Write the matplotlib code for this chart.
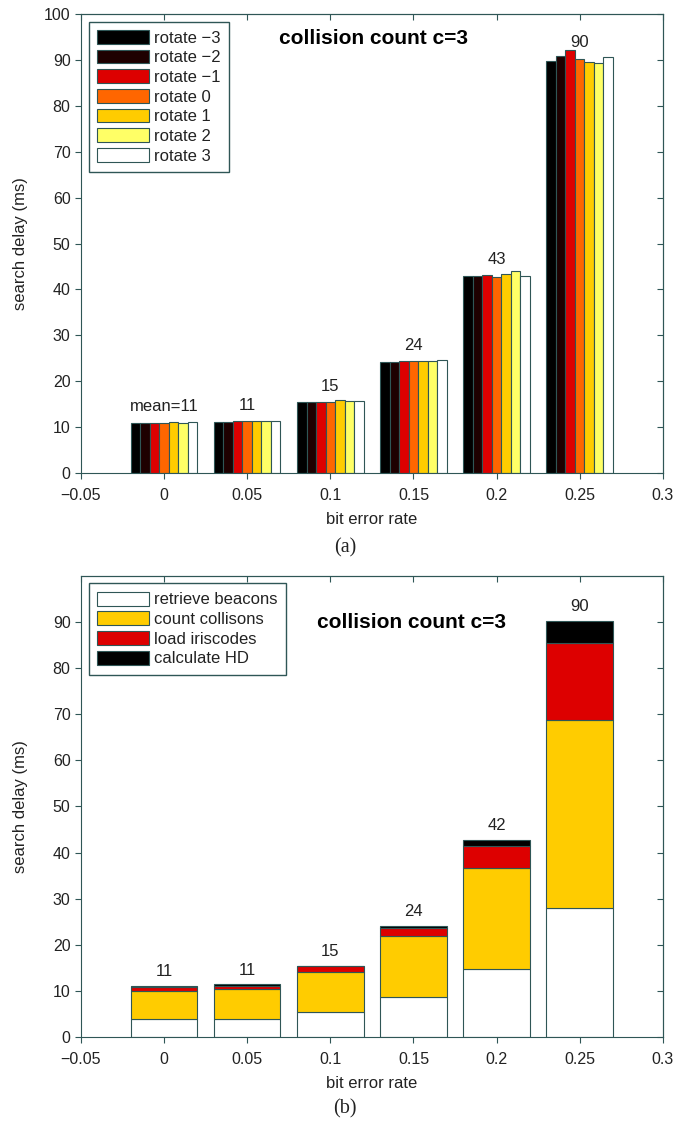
import numpy as np
import matplotlib
matplotlib.use("Agg")
import matplotlib.pyplot as plt

plt.rcParams["font.family"] = ["Liberation Sans", "DejaVu Sans"]

# Data
ber = [0, 0.05, 0.1, 0.15, 0.2, 0.25]
rot_labels = ["rotate \u22123", "rotate \u22122", "rotate \u22121",
              "rotate 0", "rotate 1", "rotate 2", "rotate 3"]
rot_delay = [
    [11.0, 11.2, 15.5, 24.2, 43.0, 89.8],
    [10.9, 11.2, 15.4, 24.2, 42.9, 90.9],
    [11.0, 11.4, 15.4, 24.3, 43.2, 92.1],
    [11.0, 11.3, 15.4, 24.3, 42.7, 90.1],
    [11.2, 11.4, 15.8, 24.4, 43.3, 89.5],
    [11.0, 11.4, 15.7, 24.3, 44.0, 89.3],
    [11.2, 11.4, 15.6, 24.6, 43.0, 90.6],
]
rot_means = ["mean=11", "11", "15", "24", "43", "90"]

stage_labels = ["retrieve beacons", "count collisons", "load iriscodes", "calculate HD"]
retrieve = [3.8, 4.0, 5.4, 8.6, 14.8, 27.9]
count = [6.2, 6.3, 8.6, 13.2, 21.8, 40.9]
load = [0.8, 0.8, 1.3, 1.9, 4.9, 16.6]
hd = [0.3, 0.3, 0.2, 0.4, 1.2, 4.9]
totals = ["11", "11", "15", "24", "42", "90"]

rot_colors = ["#000000", "#1e0000", "#dd0000", "#ff6600", "#ffcc00", "#ffff66", "#ffffff"]
stage_colors = ["#ffffff", "#ffcc00", "#dd0000", "#000000"]
edge = "#2f5656"
txt = "#222222"

fig = plt.figure(figsize=(6.75, 11.23), dpi=100)
ax1 = fig.add_axes([0.12, 0.5788, 0.862, 0.4087])
ax2 = fig.add_axes([0.12, 0.0766, 0.862, 0.4105])


def style(ax):
    ax.set_xlim(-0.05, 0.3)
    ax.set_ylim(0, 100)
    ax.set_xticks([-0.05, 0, 0.05, 0.1, 0.15, 0.2, 0.25, 0.3])
    ax.set_xticklabels(["\u22120.05", "0", "0.05", "0.1", "0.15", "0.2", "0.25", "0.3"])
    for s in ax.spines.values():
        s.set_color(edge)
    ax.tick_params(direction="out", length=4, color=edge, labelsize=11.5, labelcolor=txt)
    ax.tick_params(axis="x", pad=6.5)
    ax.tick_params(axis="y", pad=3.5)
    top = ax.secondary_xaxis("top")
    top.set_xticks(ax.get_xticks())
    top.tick_params(direction="in", length=4, color=edge, labeltop=False)
    top.spines["top"].set_color(edge)
    right = ax.secondary_yaxis("right")
    right.set_yticks(ax.get_yticks())
    right.tick_params(direction="in", length=4, color=edge, labelright=False)
    right.spines["right"].set_color(edge)
    ax.set_xlabel("bit error rate", fontsize=12, color=txt)
    ax.set_ylabel("search delay (ms)", fontsize=12, color=txt)
    ax.xaxis.set_label_coords(0.5, -0.085)
    ax.yaxis.set_label_coords(-0.091, 0.5)


def legend(ax):
    leg = ax.legend(loc="upper left", bbox_to_anchor=(0.0, 1.0), fontsize=12,
                    handlelength=3.1, handleheight=0.9, labelspacing=0.24,
                    borderpad=0.5, borderaxespad=0.45, handletextpad=0.36,
                    fancybox=False, framealpha=1)
    leg.get_frame().set_edgecolor(edge)
    for t in leg.get_texts():
        t.set_color(txt)


# (a) grouped bars
group_w = 0.04
bw = group_w / len(rot_delay)
x = np.array(ber)
for i, vals in enumerate(rot_delay):
    ax1.bar(x - group_w / 2 + bw * (i + 0.5), vals, bw, color=rot_colors[i],
            edgecolor=edge, linewidth=0.8, label=rot_labels[i])
ax1.set_yticks(range(0, 101, 10))
style(ax1)
means = np.mean(np.array(rot_delay), axis=0)
for xi, m, lab in zip(x, means, rot_means):
    ax1.text(xi, m + 3.4, lab, ha="center", va="center", fontsize=12, color=txt)
ax1.text(0.126, 94.6, "collision count c=3", ha="center", va="center",
         fontsize=15, fontweight="bold")
legend(ax1)
fig.text(0.511, 0.512, "(a)", ha="center", va="center", fontsize=14.5,
         family=["Liberation Serif", "DejaVu Serif"], color=txt)

# (b) stacked bars
bottom = np.zeros(len(ber))
for vals, c, lab in zip([retrieve, count, load, hd], stage_colors, stage_labels):
    ax2.bar(x, vals, group_w, bottom=bottom, color=c, edgecolor=edge,
            linewidth=0.8, label=lab)
    bottom += np.array(vals)
ax2.set_yticks(range(0, 91, 10))
style(ax2)
for xi, t, lab in zip(x, bottom, totals):
    ax2.text(xi, t + 3.1, lab, ha="center", va="center", fontsize=12, color=txt)
ax2.text(0.149, 90, "collision count c=3", ha="center", va="center",
         fontsize=15, fontweight="bold")
legend(ax2)
fig.text(0.511, 0.013, "(b)", ha="center", va="center", fontsize=14.5,
         family=["Liberation Serif", "DejaVu Serif"], color=txt)

fig.savefig("out.png", dpi=100)
